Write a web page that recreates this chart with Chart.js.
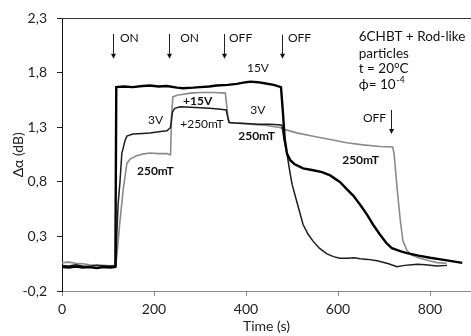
<!DOCTYPE html>
<html>
<head>
<meta charset="utf-8">
<script src="https://cdn.jsdelivr.net/npm/chart.js@4"></script>
<style>
  html, body { margin: 0; padding: 0; background: #fff; }
  #wrap { width: 471px; height: 336px; }
</style>
</head>
<body>
<div id="wrap"><canvas id="chart"></canvas></div>
<script>
// 15V trace (thick black)
const time15V = [0, 15, 30, 45, 60, 75, 90, 105, 116, 118, 135, 154, 175, 191, 210, 228, 250, 263, 285, 300,
  320, 336, 360, 380, 400, 410, 425, 440, 460, 476, 480, 484, 489, 496, 505, 524, 546, 565, 583, 604,
  620, 633, 650, 663, 676, 691, 705, 717, 735, 750, 775, 800, 830, 850, 870];
const val15V = [0.02, 0.015, 0.025, 0.015, 0.02, 0.01, 0.02, 0.015, 0.02, 1.67, 1.675, 1.67, 1.68, 1.685, 1.675, 1.68, 1.665, 1.66, 1.665, 1.67,
  1.675, 1.685, 1.69, 1.70, 1.715, 1.72, 1.715, 1.705, 1.69, 1.67, 1.45, 1.2, 1.06, 1.0, 0.965, 0.925, 0.907, 0.89, 0.86, 0.80,
  0.73, 0.675, 0.58, 0.50, 0.41, 0.318, 0.24, 0.193, 0.165, 0.148, 0.125, 0.105, 0.085, 0.072, 0.058];

// 3V, then +250mT (thin black)
const time3V = [0, 15, 30, 45, 60, 75, 90, 105, 117, 119, 122, 126, 130, 137, 141, 154, 175, 191, 210, 228,
  236, 240, 245, 257, 280, 300, 320, 340, 357, 360, 363, 375, 400, 425, 452, 470, 478, 483, 489, 495,
  500, 511, 524, 535, 546, 560, 576, 590, 604, 620, 635, 648, 665, 685, 710, 728, 745, 760, 772, 790,
  815, 837];
const val3V = [0.035, 0.03, 0.04, 0.03, 0.025, 0.035, 0.03, 0.03, 0.03, 0.3, 0.6, 0.8, 1.06, 1.18, 1.22, 1.24, 1.245, 1.25, 1.26, 1.27,
  1.30, 1.44, 1.475, 1.49, 1.485, 1.48, 1.475, 1.47, 1.46, 1.40, 1.345, 1.34, 1.335, 1.33, 1.33, 1.325, 1.32, 1.18, 1.06, 0.9,
  0.78, 0.61, 0.41, 0.32, 0.255, 0.19, 0.14, 0.115, 0.10, 0.10, 0.105, 0.095, 0.09, 0.077, 0.05, 0.023, 0.035, 0.04, 0.045, 0.04,
  0.03, 0.035];

// 250mT, then +15V (gray)
const time250mT = [0, 15, 30, 45, 60, 75, 90, 105, 117, 120, 125, 133, 141, 148, 162, 175, 191, 210, 228, 236,
  238, 241, 250, 257, 280, 300, 330, 355, 358, 361, 365, 380, 409, 440, 474, 485, 510, 546, 583, 619,
  654, 691, 719, 722, 728, 735, 741, 750, 760, 778, 800, 815, 836];
const val250mT = [0.06, 0.065, 0.055, 0.05, 0.04, 0.035, 0.035, 0.03, 0.035, 0.15, 0.40, 0.73, 0.97, 1.01, 1.04, 1.055, 1.065, 1.06, 1.06, 1.05,
  1.40, 1.58, 1.595, 1.60, 1.615, 1.62, 1.62, 1.615, 1.50, 1.38, 1.345, 1.34, 1.33, 1.32, 1.30, 1.28, 1.25, 1.22, 1.19, 1.16,
  1.14, 1.125, 1.12, 1.05, 0.76, 0.46, 0.26, 0.17, 0.13, 0.10, 0.075, 0.06, 0.055];

const xTicks = [0, 200, 400, 600, 800];
const yTicks = [-0.2, 0.3, 0.8, 1.3, 1.8, 2.3];

// switch arrows: time, top value, bottom value
const arrows = [
  { t: 111, from: 2.157, to: 1.93 },
  { t: 233, from: 2.157, to: 1.93 },
  { t: 352, from: 2.157, to: 1.93 },
  { t: 478, from: 2.15, to: 1.93 },
  { t: 715, from: 1.46, to: 1.24 },
];

const notes = [
  { text: "ON", t: 126, v: 2.12 },
  { text: "ON", t: 257, v: 2.12 },
  { text: "OFF", t: 363, v: 2.12 },
  { text: "OFF", t: 491, v: 2.12 },
  { text: "OFF", t: 654, v: 1.39 },
  { text: "6CHBT + Rod-like", t: 645, v: 2.13, size: 13.5 },
  { text: "particles", t: 645, v: 1.98, size: 13.5 },
  { text: "t = 20°C", t: 645, v: 1.835, size: 13.5 },
  { text: "15V", t: 402, v: 1.84 },
  { text: "3V", t: 187, v: 1.37 },
  { text: "3V", t: 409, v: 1.46 },
  { text: "+15V", t: 263, v: 1.54, bold: true },
  { text: "+250mT", t: 257, v: 1.33 },
  { text: "250mT", t: 163, v: 0.90, bold: true },
  { text: "250mT", t: 383, v: 1.22, bold: true },
  { text: "250mT", t: 609, v: 0.996, bold: true },
];

const FONT = "Lato, 'Open Sans', sans-serif";

function toPoints(times, values) {
  return times.map((t, i) => ({ x: t, y: values[i] }));
}

const annotationPlugin = {
  id: "annotations",
  afterDatasetsDraw(chart) {
    const { ctx, chartArea, scales } = chart;
    const xs = scales.x;
    const ys = scales.y;
    ctx.save();

    // top frame line
    ctx.strokeStyle = "#333";
    ctx.lineWidth = 1;
    ctx.beginPath();
    ctx.moveTo(chartArea.left, Math.round(chartArea.top) + 0.5);
    ctx.lineTo(chartArea.right, Math.round(chartArea.top) + 0.5);
    ctx.stroke();

    ctx.fillStyle = "#111";
    ctx.strokeStyle = "#222";
    arrows.forEach((a) => {
      const x = Math.round(xs.getPixelForValue(a.t)) + 0.5;
      const y1 = ys.getPixelForValue(a.from);
      const y2 = ys.getPixelForValue(a.to);
      ctx.beginPath();
      ctx.moveTo(x, y1);
      ctx.lineTo(x, y2 - 4);
      ctx.stroke();
      ctx.beginPath();
      ctx.moveTo(x - 2.5, y2 - 5);
      ctx.lineTo(x + 2.5, y2 - 5);
      ctx.lineTo(x, y2);
      ctx.closePath();
      ctx.fill();
    });

    ctx.textBaseline = "middle";
    ctx.textAlign = "left";
    notes.forEach((n) => {
      ctx.font = (n.bold ? "bold " : "") + (n.size || 12) + "px " + FONT;
      ctx.fillText(n.text, xs.getPixelForValue(n.t), ys.getPixelForValue(n.v));
    });

    // phi line with superscript exponent
    const px = xs.getPixelForValue(645);
    const py = ys.getPixelForValue(1.69);
    ctx.font = "13.5px " + FONT;
    const base = "\u03d5= 10";
    ctx.fillText(base, px, py);
    const w = ctx.measureText(base).width;
    ctx.font = "9px " + FONT;
    ctx.fillText("-4", px + w + 0.5, py - 5);

    ctx.restore();
  },
};

new Chart(document.getElementById("chart"), {
  type: "line",
  data: {
    datasets: [
      {
        label: "15V",
        data: toPoints(time15V, val15V),
        borderColor: "#000",
        borderWidth: 2.4,
        pointRadius: 0,
        tension: 0,
      },
      {
        label: "3V +250mT",
        data: toPoints(time3V, val3V),
        borderColor: "#1c1c1c",
        borderWidth: 1.5,
        pointRadius: 0,
        tension: 0,
      },
      {
        label: "250mT +15V",
        data: toPoints(time250mT, val250mT),
        borderColor: "#8a8a8a",
        borderWidth: 1.6,
        pointRadius: 0,
        tension: 0,
      },
    ],
  },
  options: {
    responsive: true,
    maintainAspectRatio: false,
    animation: false,
    devicePixelRatio: 1,
    layout: { padding: { top: 11, right: 0, left: 0, bottom: 0 } },
    plugins: {
      legend: { display: false },
      tooltip: { enabled: false },
    },
    scales: {
      x: {
        type: "linear",
        min: 0,
        max: 889,
        afterBuildTicks: (scale) => {
          scale.ticks = xTicks.map((v) => ({ value: v }));
        },
        afterFit: (scale) => {
          scale.height = 45;
        },
        grid: {
          display: true,
          drawOnChartArea: false,
          drawTicks: true,
          tickLength: 5,
          color: "#888",
        },
        border: { display: true, color: "#888", width: 1 },
        ticks: {
          padding: 5,
          color: "#222",
          font: { family: FONT, size: 14 },
          maxRotation: 0,
        },
        title: {
          display: true,
          text: "Time (s)",
          color: "#222",
          font: { family: FONT, size: 14 },
          padding: { top: 0, bottom: 1 },
        },
      },
      y: {
        min: -0.2,
        max: 2.3,
        afterBuildTicks: (scale) => {
          scale.ticks = yTicks.map((v) => ({ value: v }));
        },
        afterFit: (scale) => {
          scale.width = 62;
        },
        grid: {
          display: true,
          drawOnChartArea: false,
          drawTicks: true,
          tickLength: 5,
          color: "#222",
        },
        border: { display: true, color: "#111", width: 1 },
        ticks: {
          padding: 10,
          color: "#222",
          font: { family: FONT, size: 14 },
          callback: (value) => value.toFixed(1).replace(".", ","),
        },
        title: {
          display: true,
          text: "\u0394\u03b1 (dB)",
          color: "#222",
          font: { family: FONT, size: 14 },
          padding: { top: 10, bottom: 0 },
        },
      },
    },
  },
  plugins: [annotationPlugin],
});
</script>
</body>
</html>
